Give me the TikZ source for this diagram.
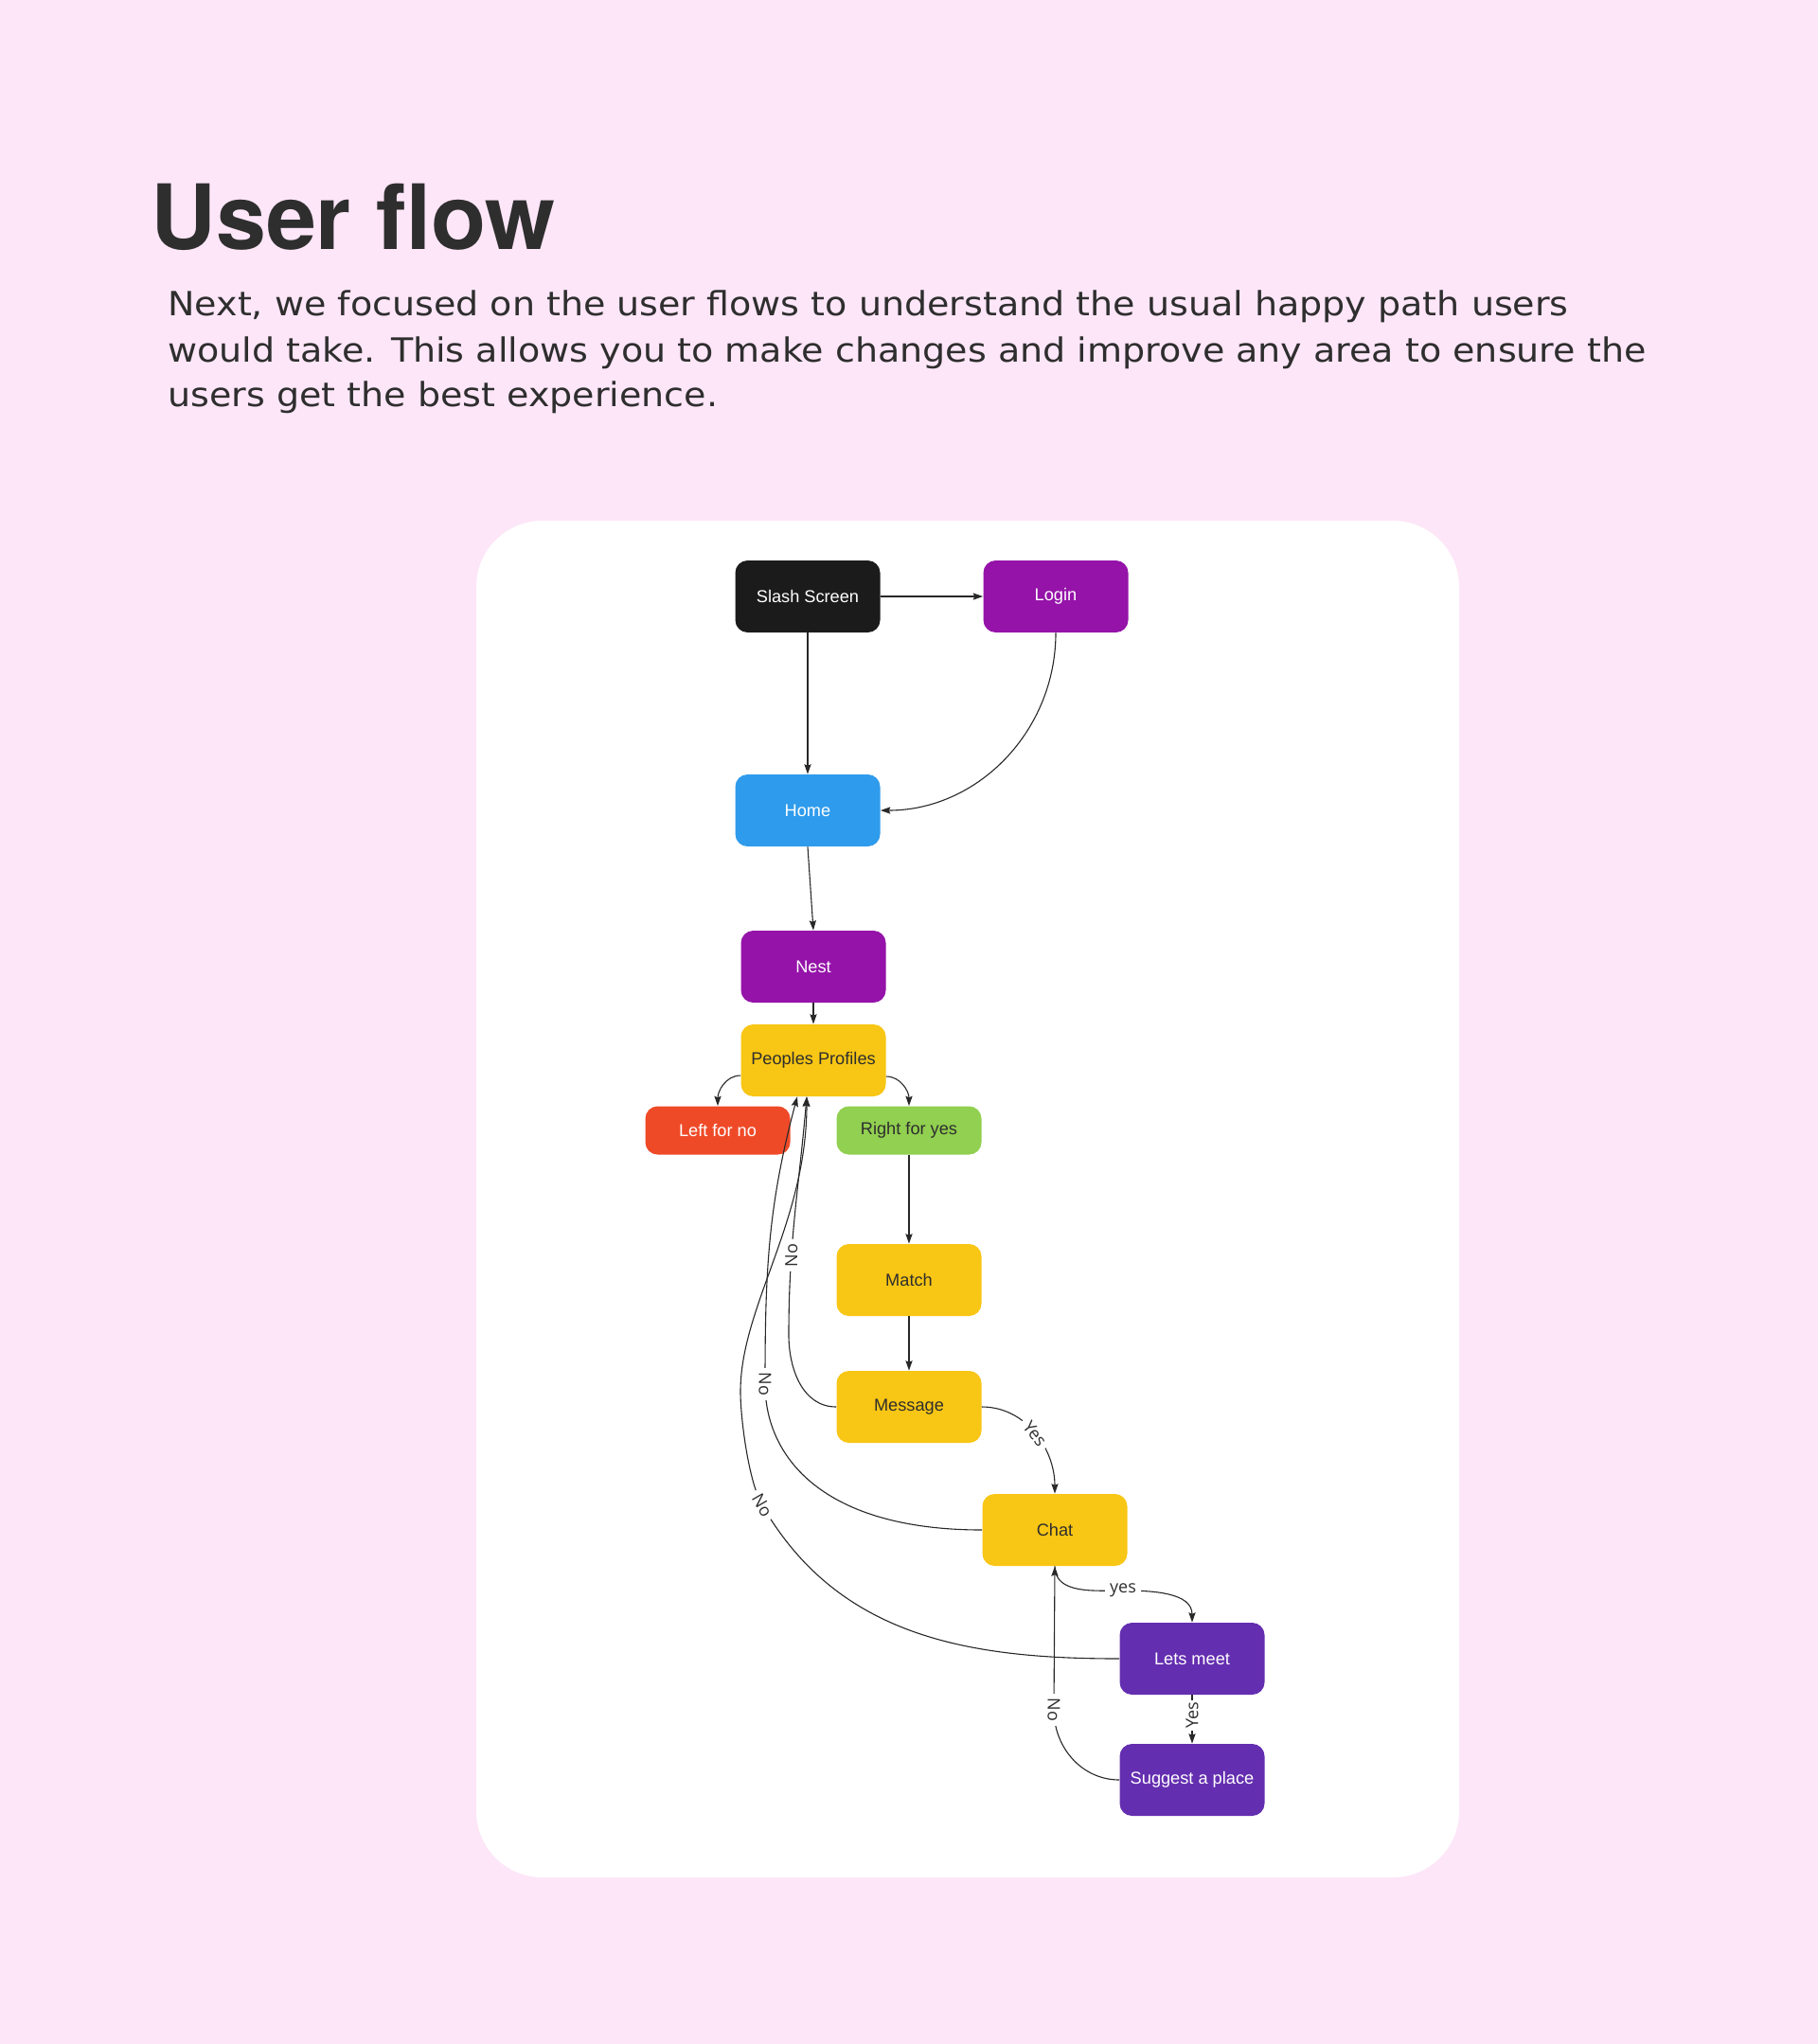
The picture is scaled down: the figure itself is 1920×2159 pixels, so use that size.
\documentclass[tikz,border=0pt]{standalone}
\usepackage{fontspec}
\setmainfont{Liberation Sans}
\newfontfamily\titlefont{TeX Gyre Heros}
\newfontfamily\parafont[FakeStretch=1.08]{DejaVu Sans}
\newfontfamily\lblfont{Open Sans}
\usetikzlibrary{arrows.meta,calc}
\definecolor{bgpink}{RGB}{253,230,248}
\definecolor{txtdark}{RGB}{46,46,46}
\definecolor{cblack}{RGB}{27,27,27}
\definecolor{cmagenta}{RGB}{149,19,169}
\definecolor{cblue}{RGB}{47,155,236}
\definecolor{cyellow}{RGB}{248,198,20}
\definecolor{cred}{RGB}{239,74,40}
\definecolor{cgreen}{RGB}{145,208,80}
\definecolor{cviolet}{RGB}{100,46,176}
\definecolor{edgecol}{RGB}{40,40,40}
\begin{document}
\begin{tikzpicture}[x=0.5pt,y=-0.5pt,
  box/.style={rounded corners=6.5pt, minimum width=76.5pt, minimum height=38pt, inner sep=0pt, font=\fontsize{9.1}{11}\selectfont, text=white},
  lightbox/.style={box, text=txtdark},
  shortbox/.style={minimum height=25.5pt},
  edge/.style={draw=edgecol, line width=0.55pt, -{Stealth[length=5.2pt,width=3.6pt,inset=0.8pt]}},
  lbl/.style={fill=white, inner xsep=2.4pt, inner ysep=1.2pt, font=\lblfont\fontsize{9}{10}\selectfont, text=txtdark},
  heading/.style={anchor=base west, inner sep=0pt, text=txtdark},
  bodyline/.style={heading, font=\parafont\fontsize{17.6}{24}\selectfont},
]
% background and card
\fill[bgpink] (0,0) rectangle (1920,2159);
\useasboundingbox (0,0) rectangle (1920,2159);
\fill[white, rounded corners=35pt] (503,550) rectangle (1541,1983);

% heading
\node[heading, font=\titlefont\bfseries\fontsize{47.6}{52}\selectfont] (title) at (159,263) {User flow};
\node[bodyline] (p1) at (177,333) {Next, we focused on the user flows to understand the usual happy path users};
\node[bodyline] (p2) at (177,382) {would take. This allows you to make changes and improve any area to ensure the};
\node[bodyline] (p3) at (177,429) {users get the best experience.};

% nodes
\node[box, fill=cblack] (slash) at (853,630) {Slash Screen};
\node[box, fill=cmagenta] (login) at (1115,630) {Login};
\node[box, fill=cblue] (home) at (853,856) {Home};
\node[box, fill=cmagenta] (nest) at (859,1021) {Nest};
\node[lightbox, fill=cyellow] (pp) at (859,1120) {Peoples Profiles};
\node[box, shortbox, fill=cred] (left) at (758,1194) {Left for no};
\node[lightbox, shortbox, fill=cgreen] (right) at (960,1194) {Right for yes};
\node[lightbox, fill=cyellow] (match) at (960,1352) {Match};
\node[lightbox, fill=cyellow] (msg) at (960,1486) {Message};
\node[lightbox, fill=cyellow] (chat) at (1114,1616) {Chat};
\node[box, fill=cviolet] (lets) at (1259,1752) {Lets meet};
\node[box, fill=cviolet] (sugg) at (1259,1880) {Suggest a place};

% helper coordinates
\coordinate (ppA) at ($(pp.south)+(-17,0)$);
\coordinate (ppB) at ($(pp.south)+(-7,0)$);
\coordinate (yesm) at (1186,1680);
\coordinate (noS) at (1113,1806);
\coordinate (bA) at (833,1410);
\coordinate (aL) at (808,1462);
\coordinate (cL) at (805,1590);
\coordinate (cM) at (782,1470);

% connectors
\draw[edge] (slash.east) -- (login.west);
\draw[edge] (slash.south) -- (home.north);
\draw[edge] (login.south) to[out=-90,in=0] (home.east);
\draw[edge] (home.south) -- (nest.north);
\draw[edge] (nest.south) -- (pp.north);
\draw[edge] ($(pp.west)+(0,16)$) to[out=180,in=90] (left.north);
\draw[edge] ($(pp.east)+(0,17)$) to[out=0,in=90] (right.north);
\draw[edge] (right.south) -- (match.north);
\draw[edge] (match.south) -- (msg.north);
\draw[edge] (msg.east) to[out=0,in=90] node[lbl, sloped] {Yes} (chat.north);
\draw[edge] (chat.south) to[out=-90,in=180] (yesm) node[lbl] {yes} to[out=0,in=90] (lets.north);
\draw[edge] (lets.south) -- node[lbl, inner xsep=1pt, pos=0.42, rotate=90] {Yes} (sugg.north);
\draw[edge] (sugg.west) to[out=180,in=-90] (noS) node[lbl, rotate=-90] {No} -- (chat.south);
\draw[edge] (msg.west) to[out=180,in=-90] (bA) to[out=90,in=-95] node[lbl, pos=0.32, rotate=90] {No} (ppB);
\draw[edge] (chat.west) .. controls +(-167,0) and +(0,78) .. (aL) node[lbl, rotate=-90] {No} to[out=90,in=-105] (ppA);
\draw[edge] (lets.west) to[out=180,in=-60] (cL) node[lbl, rotate=-60] {No} to[out=120,in=-90,looseness=0.6] (cM) .. controls +(0,-90) and +(0,133) .. (ppB);
\end{tikzpicture}
\end{document}
